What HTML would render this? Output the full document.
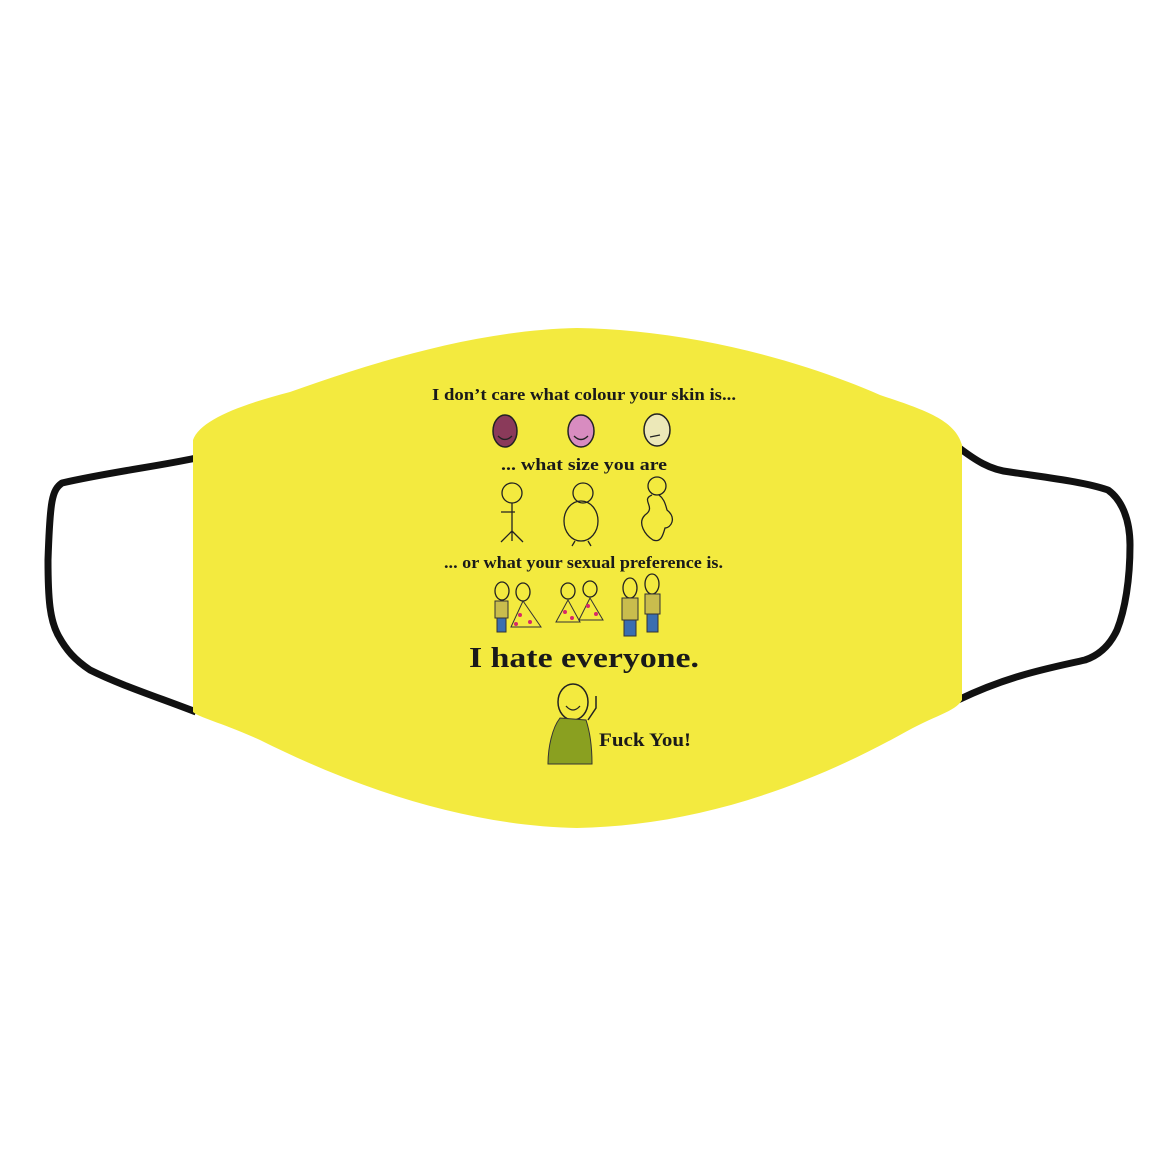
<!DOCTYPE html>
<html><head><style>
html,body{margin:0;padding:0;background:#fff;}
svg{display:block;}
text{font-family:"Liberation Serif",serif;font-weight:bold;fill:#1a1a1a;}
</style></head><body>
<svg width="1155" height="1155" viewBox="0 0 1155 1155">
<rect width="1155" height="1155" fill="#fff"/>
<!-- straps -->
<path d="M196,458 C160,466 110,472 62,483 C52,490 50,500 48,560 C48,600 50,620 58,635 C66,650 75,660 90,670 C120,685 160,698 196,712" fill="none" stroke="#111" stroke-width="7" stroke-linejoin="round"/>
<path d="M958,447 C975,460 990,470 1010,472 C1050,478 1085,482 1108,490 C1122,500 1130,520 1130,545 C1130,580 1125,610 1117,630 C1110,645 1100,655 1085,660 C1050,668 1010,675 958,700" fill="none" stroke="#111" stroke-width="7" stroke-linejoin="round"/>
<!-- mask -->
<path d="M193,440 C200,420 240,405 290,392 C380,360 480,330 577,328 C690,330 800,360 880,395 C925,410 955,420 962,445 L962,700 C955,712 935,715 900,735 C800,790 690,826 577,828 C470,826 360,790 260,740 C220,722 200,718 193,712 Z" fill="#F3EA3F"/>
<!-- text -->
<text x="432" y="400" font-size="17" textLength="304" lengthAdjust="spacingAndGlyphs">I don’t care what colour your skin is...</text>
<text x="501" y="470" font-size="17" textLength="166" lengthAdjust="spacingAndGlyphs">... what size you are</text>
<text x="444" y="568" font-size="16.5" textLength="279" lengthAdjust="spacingAndGlyphs">... or what your sexual preference is.</text>
<text x="469" y="667" font-size="29" textLength="230" lengthAdjust="spacingAndGlyphs">I hate everyone.</text>
<text x="599" y="746" font-size="19" textLength="92" lengthAdjust="spacingAndGlyphs">Fuck You!</text>
<!-- faces -->
<g stroke="#222" stroke-width="1.5">
<ellipse cx="505" cy="431" rx="12" ry="16" fill="#8a3a5a"/>
<ellipse cx="581" cy="431" rx="13" ry="16" fill="#d88cc0"/>
<ellipse cx="657" cy="430" rx="13" ry="16" fill="#ece8b8"/>
</g>
<g fill="none" stroke="#222" stroke-width="1.3">
<path d="M498,436 q7,7 14,0 M574,436 q7,7 14,0 M650,437 l10,-2"/>
<circle cx="512" cy="493" r="10"/><path d="M512,503 v38 M501,512 h14 M512,531 l-11,11 M512,531 l11,11"/>
<circle cx="583" cy="493" r="10"/><ellipse cx="581" cy="521" rx="17" ry="20"/><path d="M575,541 l-3,5 M588,541 l3,5"/>
<circle cx="657" cy="486" r="9"/><path d="M652,495 c-12,5 5,12 -7,20 c-8,8 0,20 8,25 c8,3 10,-5 12,-12 c6,0 12,-10 2,-18 c-2,-8 -4,-12 -8,-15"/>
<g>
<ellipse cx="502" cy="591" rx="7" ry="9"/><ellipse cx="523" cy="592" rx="7" ry="9"/>
<ellipse cx="568" cy="591" rx="7" ry="8"/><ellipse cx="590" cy="589" rx="7" ry="8"/>
<ellipse cx="630" cy="588" rx="7" ry="10"/><ellipse cx="652" cy="584" rx="7" ry="10"/>
</g>
</g>
<g stroke="#333" stroke-width="1">
<rect x="495" y="601" width="13" height="17" fill="#c9bd4d"/>
<rect x="497" y="618" width="9" height="14" fill="#3a6eb0"/>
<path d="M523,601 l-12,26 h30 z" fill="#f3ea3f"/>
<path d="M568,600 l-12,22 h24 z" fill="#f3ea3f"/>
<path d="M590,598 l-11,22 h24 z" fill="#f3ea3f"/>
<rect x="622" y="598" width="16" height="22" fill="#c9bd4d"/>
<rect x="624" y="620" width="12" height="16" fill="#3a6eb0"/>
<rect x="645" y="594" width="15" height="20" fill="#c9bd4d"/>
<rect x="647" y="614" width="11" height="18" fill="#3a6eb0"/>
</g>
<g fill="#d8286a">
<circle cx="520" cy="615" r="2"/><circle cx="530" cy="622" r="2"/><circle cx="516" cy="624" r="2"/>
<circle cx="565" cy="612" r="2"/><circle cx="572" cy="618" r="2"/><circle cx="588" cy="606" r="2"/><circle cx="596" cy="614" r="2"/>
</g>
<ellipse cx="573" cy="702" rx="15" ry="18" fill="none" stroke="#222" stroke-width="1.5"/>
<path d="M566,706 q7,8 14,0" fill="none" stroke="#222" stroke-width="1.3"/>
<path d="M560,718 c-8,10 -12,30 -12,46 h44 c0,-15 -2,-32 -6,-44 z" fill="#8aa020" stroke="#333" stroke-width="1"/>
<path d="M588,720 l8,-12 v-12" fill="none" stroke="#222" stroke-width="1.5"/>
</svg>
</body></html>
